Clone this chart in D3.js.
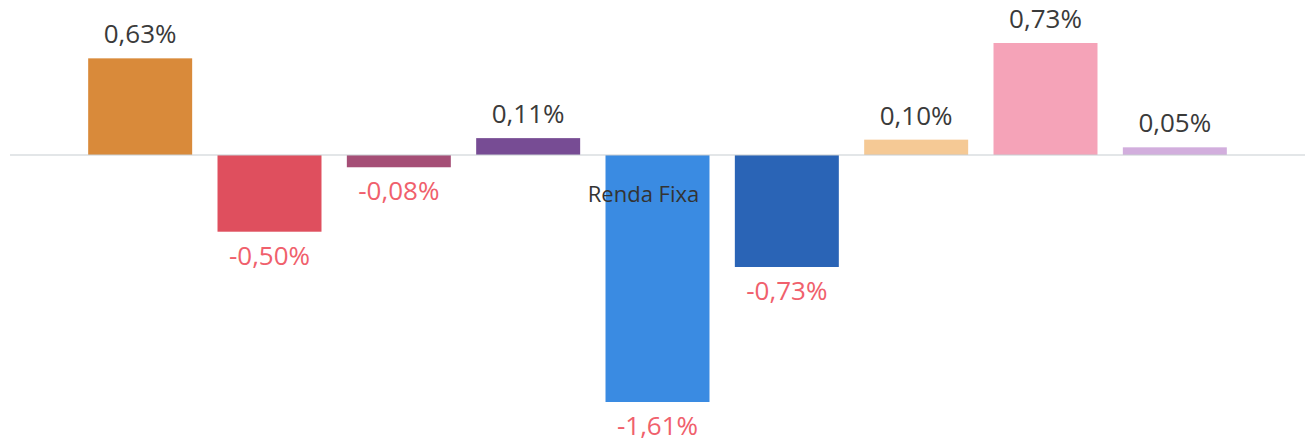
<!DOCTYPE html>
<html><head><meta charset="utf-8">
<script src="https://cdn.jsdelivr.net/npm/d3@7"></script>
<style>html,body{margin:0;padding:0;background:#fff;}svg{display:block;}</style>
</head><body>
<svg id="chart" width="1309" height="445"></svg>
<script>
const categories = ["A1","A2","A3","A4","Renda Fixa","A6","A7","A8","A9"];
const values = [0.63, -0.50, -0.08, 0.11, -1.61, -0.73, 0.10, 0.73, 0.05];
const valueLabels = ["0,63%","-0,50%","-0,08%","0,11%","-1,61%","-0,73%","0,10%","0,73%","0,05%"];
const colors = ["#D98A3A","#DF4F5E","#A54E76","#774C94","#3A8BE2","#2A64B6","#F5C995","#F5A3B8","#D2AEDD"];
const groupLabel = "Renda Fixa";

const svg = d3.select("#chart");
const x = d3.scaleBand().domain(categories).range([75.5, 1239.5]).paddingInner(0.196).paddingOuter(0.098);
const y = d3.scaleLinear().domain([-1.61, 0.73]).range([402, 43]);
const font = "'Open Sans', 'Noto Sans', sans-serif";

svg.selectAll("rect.bar").data(values).join("rect")
  .attr("class","bar")
  .attr("x",(d,i)=>x(categories[i]))
  .attr("width",x.bandwidth())
  .attr("y",d=>y(Math.max(0,d)))
  .attr("height",d=>Math.abs(y(d)-y(0)))
  .attr("fill",(d,i)=>colors[i]);

svg.append("line")
  .attr("x1",10).attr("x2",1305)
  .attr("y1",y(0)).attr("y2",y(0))
  .attr("stroke","#c8cdd2").attr("stroke-width",1.2);

svg.selectAll("text.val").data(values).join("text")
  .attr("class","val")
  .attr("x",(d,i)=>x(categories[i])+x.bandwidth()/2)
  .attr("y",d=>d>=0 ? y(d)-15 : y(d)+33)
  .attr("text-anchor","middle")
  .attr("font-family",font)
  .attr("font-size",26)
  .attr("fill",d=>d>=0 ? "#3a3a3a" : "#F0606C")
  .text((d,i)=>valueLabels[i]);

svg.append("text")
  .attr("x",x(groupLabel)+x.bandwidth()/2-14)
  .attr("y",y(0)+47)
  .attr("text-anchor","middle")
  .attr("font-family",font)
  .attr("font-size",22)
  .attr("fill","#333")
  .text(groupLabel);
</script>
</body></html>
